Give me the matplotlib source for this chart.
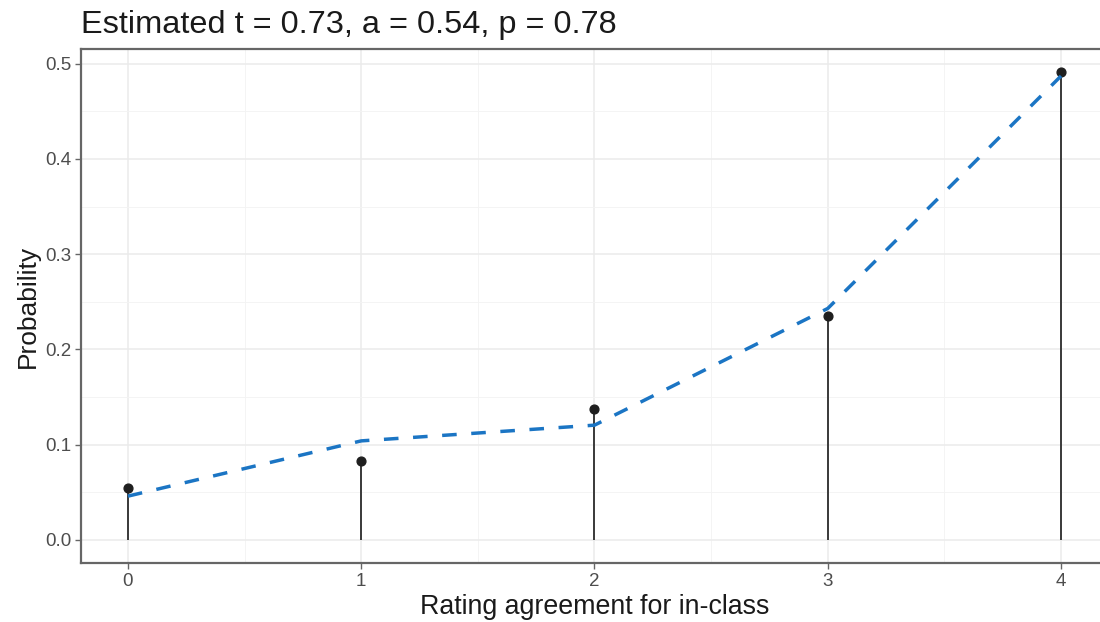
import numpy as np
import matplotlib.pyplot as plt

# rating levels and probabilities
ratings = [0, 1, 2, 3, 4]
observed = [0.0545, 0.083, 0.137, 0.235, 0.491]
estimated = [0.046, 0.104, 0.1205, 0.243, 0.487]
title = "Estimated t = 0.73, a = 0.54, p = 0.78"

plt.rcParams['font.family'] = ['Liberation Sans', 'DejaVu Sans']

fig = plt.figure(figsize=(11, 6.22), dpi=100)
ax = fig.add_axes([0.0739, 0.0942, 0.9331, 0.827])

# grid
ax.set_xticks(ratings)
ax.set_xticks(np.arange(-0.5, 4.6, 1.0), minor=True)
ax.set_yticks(np.arange(0, 0.51, 0.1))
ax.set_yticks(np.arange(0.05, 0.51, 0.1), minor=True)
ax.grid(which='major', color='#ebebeb', linewidth=1.1)
ax.grid(which='minor', color='#f3f3f3', linewidth=0.6)
ax.set_axisbelow(True)

# stems + points
ax.vlines(ratings, 0, observed, color='#3a3a3a', linewidth=1.4, zorder=2)
ax.scatter(ratings, observed, s=40, color='#1f1f1f', zorder=3)

# fitted line
ax.plot(ratings, estimated, color='#1b75c4', linewidth=2.5, linestyle=(0, (4.2, 4.2)), zorder=4)

ax.set_xlim(-0.2, 4.2)
ax.set_ylim(-0.0246, 0.5153)
ax.set_yticklabels(['0.0', '0.1', '0.2', '0.3', '0.4', '0.5'])

for s in ax.spines.values():
    s.set_color('#666666')
    s.set_linewidth(1.6)

ax.tick_params(which='major', length=4, width=1, color='#666666', labelcolor='#4d4d4d', labelsize=13.5, pad=3)
ax.tick_params(which='minor', length=0)

ax.set_xlabel("Rating agreement for in-class", fontsize=19.3, color='#1a1a1a', labelpad=3)
ax.set_ylabel("Probability", fontsize=19, color='#1a1a1a', labelpad=4)
ax.set_title(title, fontsize=23.4, loc='left', color='#1a1a1a', pad=11.5)

fig.savefig('out.png', dpi=100)
